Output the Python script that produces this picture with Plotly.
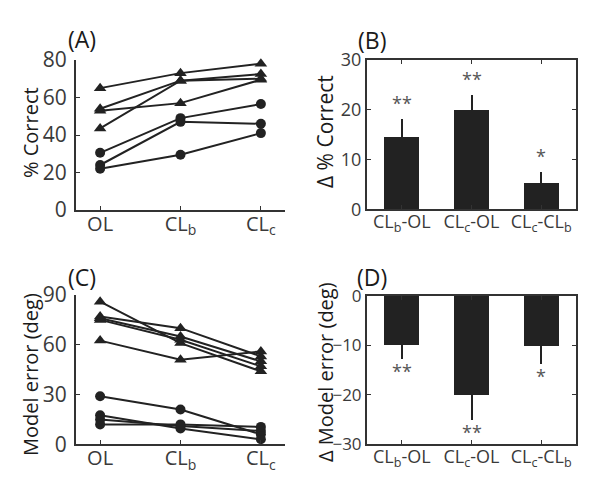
import plotly.graph_objects as go

# ---------------- data ----------------
conditions = ["OL", "CL<sub>b</sub>", "CL<sub>c</sub>"]
cond_x = [1, 2, 3]

# Panel A: % correct (triangles / circles groups)
pc_tri = [
    [65, 73, 78],
    [54, 69, 72.5],
    [53, 57, 69.5],
    [43.5, 69, 70],
]
pc_circ = [
    [30.5, 49, 56.5],
    [24, 47, 46],
    [22, 29.5, 41],
]

# Panel B: change in % correct
diff_labels = ["CL<sub>b</sub>-OL", "CL<sub>c</sub>-OL", "CL<sub>c</sub>-CL<sub>b</sub>"]
dpc_mean = [14.6, 19.9, 5.3]
dpc_err = [3.5, 3.0, 2.2]
dpc_sig = ["**", "**", "*"]

# Panel C: model error (deg)
me_tri = [
    [86, 61, 44],
    [77, 70, 53],
    [76, 65, 50],
    [75, 63, 47],
    [62.5, 51, 56],
]
me_circ = [
    [29, 21, 6],
    [17.5, 9.5, 3],
    [15, 11, 8],
    [12, 12, 10.5],
]

# Panel D: change in model error
dme_mean = [-9.8, -19.9, -10.1]
dme_err = [3.0, 5.2, 3.6]
dme_sig = ["**", "**", "*"]
dme_ticks = [-30, -20, -10, 0]
dme_ticktext = ["\u221230", "\u221220", "\u221210", "0"]

# ---------------- styling ----------------
INK = "#222222"
TXT = "#3a3a3a"
FONT = "Open Sans"

fig = go.Figure()

def add_lines(series, symbol, size, xa, ya):
    for s in series:
        fig.add_trace(go.Scatter(
            x=cond_x, y=s, mode="lines+markers",
            line=dict(color=INK, width=2),
            marker=dict(symbol=symbol, size=size, color=INK),
            xaxis=xa, yaxis=ya, showlegend=False, cliponaxis=False,
        ))

add_lines(pc_tri, "triangle-up", 11, "x", "y")
add_lines(pc_circ, "circle", 10, "x", "y")
add_lines(me_tri, "triangle-up", 11, "x3", "y3")
add_lines(me_circ, "circle", 10, "x3", "y3")

fig.add_trace(go.Bar(
    x=cond_x, y=dpc_mean, width=0.5, marker=dict(color=INK, line=dict(width=0)),
    error_y=dict(type="data", array=dpc_err, arrayminus=[0] * 3, symmetric=False,
                 color=INK, thickness=2, width=0),
    xaxis="x2", yaxis="y2", showlegend=False,
))
fig.add_trace(go.Bar(
    x=cond_x, y=dme_mean, width=0.5, marker=dict(color=INK, line=dict(width=0)),
    error_y=dict(type="data", array=[0] * 3, arrayminus=dme_err, symmetric=False,
                 color=INK, thickness=2, width=0),
    xaxis="x4", yaxis="y4", showlegend=False,
))

def W(px):
    return px / 600.0

def H(py):
    return 1 - py / 501.0

axis_common = dict(showline=True, linecolor="#333333", linewidth=2, showgrid=False,
                   zeroline=False, ticks="inside", ticklen=4, tickcolor="#333333",
                   tickwidth=1, automargin=False)

fig.update_layout(
    template="none",
    width=600, height=501,
    margin=dict(l=0, r=0, t=0, b=0, pad=0),
    paper_bgcolor="white", plot_bgcolor="white",
    font=dict(family=FONT, color=TXT),
    bargap=0,
    xaxis=dict(axis_common, domain=[W(76), W(285)], range=[0.7, 3.3], anchor="y",
               tickvals=cond_x, ticktext=conditions, tickfont=dict(size=20),
               ticklabelstandoff=-5),
    yaxis=dict(axis_common, domain=[H(210), H(60)], range=[0, 80], anchor="x",
               tickvals=[0, 20, 40, 60, 80], tickfont=dict(size=21),
               ticklabelstandoff=3),
    xaxis2=dict(axis_common, domain=[W(367), W(576)], range=[0.5, 3.5], anchor="y2",
                mirror="ticks", tickvals=cond_x, ticktext=diff_labels,
                tickfont=dict(size=18), ticklabelstandoff=-5),
    yaxis2=dict(axis_common, domain=[H(209.3), H(60)], range=[0, 30], anchor="x2",
                mirror="ticks", tickvals=[0, 10, 20, 30], tickfont=dict(size=18)),
    xaxis3=dict(axis_common, domain=[W(76), W(285)], range=[0.7, 3.3], anchor="y3",
                tickvals=cond_x, ticktext=conditions, tickfont=dict(size=20),
                ticklabelstandoff=-5),
    yaxis3=dict(axis_common, domain=[H(444.3), H(295)], range=[0, 90], anchor="x3",
                tickvals=[0, 30, 60, 90], tickfont=dict(size=21),
                ticklabelstandoff=3),
    xaxis4=dict(axis_common, domain=[W(367), W(576)], range=[0.5, 3.5], anchor="y4",
                mirror="ticks", tickvals=cond_x, ticktext=diff_labels,
                tickfont=dict(size=18), ticklabelstandoff=-5),
    yaxis4=dict(axis_common, domain=[H(444.3), H(295.7)], range=[-30, 0], anchor="x4",
                mirror="ticks", tickvals=dme_ticks, ticktext=dme_ticktext,
                tickfont=dict(size=17)),
)

ann = []
# panel labels
for lab, px, py in [("(A)", 82, 39), ("(B)", 372, 40), ("(C)", 82, 277), ("(D)", 372, 277)]:
    ann.append(dict(text=lab, x=W(px), y=H(py), xref="paper", yref="paper",
                    showarrow=False, xanchor="center", yanchor="middle",
                    font=dict(size=23, color="#1a1a1a")))
# y-axis titles
for lab, px, py, sz in [("% Correct", 30, 133, 20), ("Δ % Correct", 325, 132, 21),
                        ("Model error (deg)", 30, 375, 20), ("Δ Model error (deg)", 325, 372, 20)]:
    ann.append(dict(text=lab, x=W(px), y=H(py), xref="paper", yref="paper",
                    showarrow=False, textangle=-90, xanchor="center", yanchor="middle",
                    font=dict(size=sz, color="#1a1a1a")))
# significance stars
for i in range(3):
    ann.append(dict(text=dpc_sig[i], x=cond_x[i], y=dpc_mean[i] + dpc_err[i],
                    xref="x2", yref="y2", showarrow=False, yanchor="bottom",
                    yshift=2, font=dict(size=18, color="#555555")))
    ann.append(dict(text=dme_sig[i], x=cond_x[i], y=dme_mean[i] - dme_err[i],
                    xref="x4", yref="y4", showarrow=False, yanchor="top",
                    yshift=2, font=dict(size=18, color="#555555")))
fig.update_layout(annotations=ann)

fig.write_html("out.html", config={"displayModeBar": False},
               post_script="document.body.style.margin='0';document.body.style.padding='0';")
